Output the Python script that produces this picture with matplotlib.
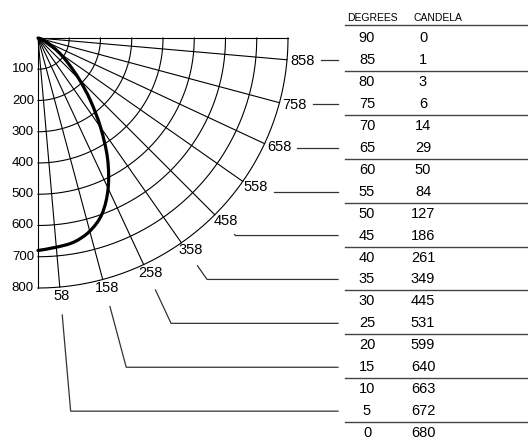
import numpy as np
import matplotlib.pyplot as plt
from matplotlib.path import Path
from matplotlib.patches import PathPatch

plt.rcParams['font.family'] = ['Liberation Sans', 'DejaVu Sans']

# datos de la curva fotometrica
degrees = [90, 85, 80, 75, 70, 65, 60, 55, 50, 45, 40, 35, 30, 25, 20, 15, 10, 5, 0]
candela = [0, 1, 3, 6, 14, 29, 50, 84, 127, 186, 261, 349, 445, 531, 599, 640, 663, 672, 680]

# anillos y radios de la rejilla
ring_values = [100, 200, 300, 400, 500, 600, 700, 800]
ring_labels = ['100', '200', '300', '400', '500', '600', '700', '800']
spoke_angles = [5, 15, 25, 35, 45, 55, 65, 75, 85]
spoke_labels = ['58', '158', '258', '358', '458', '558', '658', '758', '858']

# geometria (pixeles)
ox, oy = 38.0, 38.0
scale = 250.0 / 800.0
row0, row_step = 38.0, 21.95
x_deg, x_cd = 367, 423
x_leader_end = 338
x_table0, x_table1 = 345, 528


def polar(r, ang):
    a = np.radians(ang)
    return ox + r * scale * np.sin(a), oy + r * scale * np.cos(a)


fig = plt.figure(figsize=(5.28, 4.47), dpi=100)
ax = fig.add_axes([0, 0, 1, 1])
ax.set_xlim(0, 528)
ax.set_ylim(447, 0)
ax.axis('off')

# arcos
t = np.linspace(0, 90, 200)
for rv, lab in zip(ring_values, ring_labels):
    x, y = polar(rv, t)
    ax.plot(x, y, color='black', lw=0.8)
    ax.text(ox - 4, oy + rv * scale, lab, ha='right', va='center', fontsize=9.5)

# radios
for ang in [0] + spoke_angles + [90]:
    x, y = polar(np.array([0, 800]), ang)
    ax.plot(x, y, color='black', lw=0.8)

# curva de candelas (suavizada con bezier tipo catmull-rom)
cx, cy = polar(np.array(candela, dtype=float), np.array(degrees, dtype=float))
pts = np.column_stack([cx, cy])
ext = np.vstack([pts[0], pts, pts[-1]])
verts = [pts[0]]
codes = [Path.MOVETO]
for i in range(len(pts) - 1):
    p0, p1, p2, p3 = ext[i], ext[i + 1], ext[i + 2], ext[i + 3]
    verts += [p1 + (p2 - p0) / 6, p2 - (p3 - p1) / 6, p2]
    codes += [Path.CURVE4] * 3
ax.add_patch(PathPatch(Path(verts, codes), fill=False, edgecolor='black',
                       lw=2.3, capstyle='round'))

# tabla
row_y = {d: row0 + i * row_step for i, d in enumerate(degrees)}
ax.text(372, row0 - 20, 'DEGREES', ha='center', va='center', fontsize=7.5)
ax.text(438, row0 - 20, 'CANDELA', ha='center', va='center', fontsize=7.5)
ax.plot([x_table0, x_table1], [row0 - 13, row0 - 13], color='#444444', lw=1)
for d, c in zip(degrees, candela):
    ax.text(x_deg, row_y[d], str(d), ha='center', va='center', fontsize=10.5)
    ax.text(x_cd, row_y[d], str(c), ha='center', va='center', fontsize=10.5)
for d in [85, 75, 65, 55, 45, 35, 25, 15, 5]:
    ys = row_y[d] + 11
    ax.plot([x_table0, x_table1], [ys, ys], color='#444444', lw=1)

# etiquetas de los radios y lineas guia
for ang, lab in zip(spoke_angles, spoke_labels):
    a = np.radians(ang)
    ex, ey = polar(800, ang)
    lx, ly = ex + 16 * np.sin(a), ey + 9 * np.cos(a)
    ax.text(lx, ly, lab, ha='center', va='center', fontsize=10.5)
    yr = row_y[ang]
    r_row = (yr - oy) / np.cos(a) / scale
    r_start = 278 / scale
    if r_row >= r_start:
        sx, sy = polar(r_start, ang)
        hx, hy = polar(r_row, ang)
        ax.plot([sx, hx, x_leader_end], [sy, hy, yr], color='#333333', lw=0.9)
    else:
        ax.plot([lx + 18, x_leader_end], [yr, yr], color='#333333', lw=0.9)

fig.savefig('out.png', dpi=100)
